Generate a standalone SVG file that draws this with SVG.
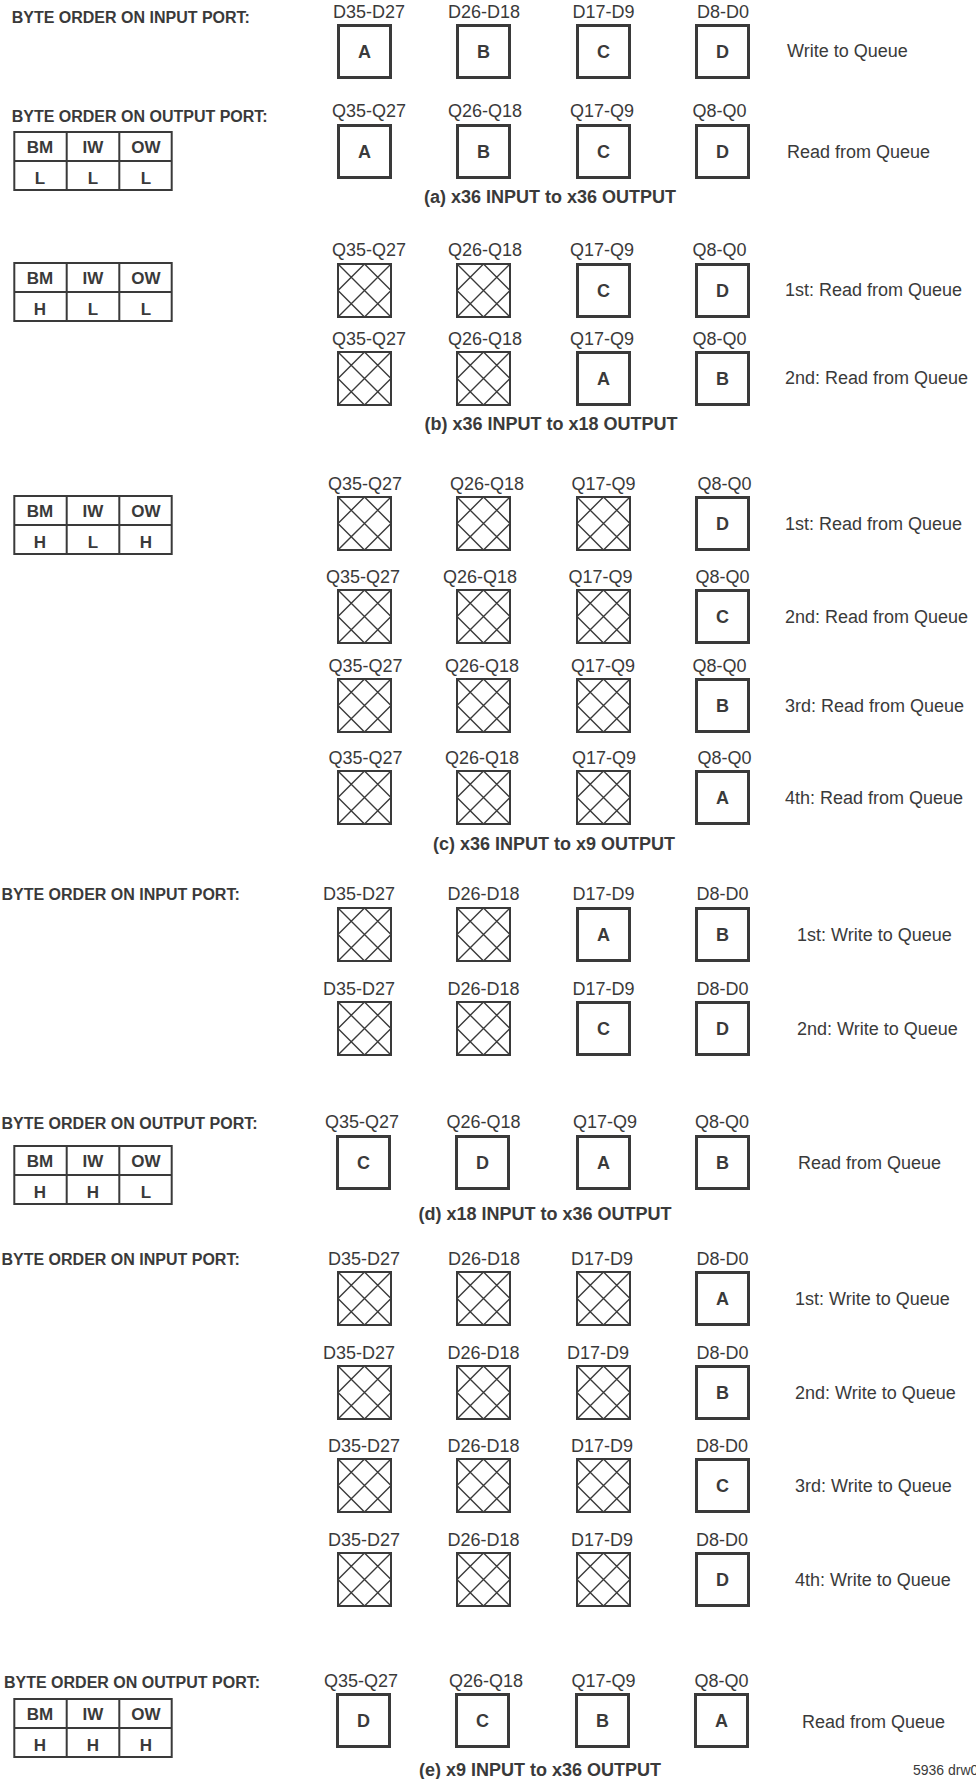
<svg xmlns="http://www.w3.org/2000/svg" xmlns:xlink="http://www.w3.org/1999/xlink" width="976" height="1779" viewBox="0 0 976 1779">
<style>
text{font-family:"Liberation Sans",Arial,Helvetica,sans-serif;fill:#3a3a3a}
.lbl{font-size:18px;text-anchor:middle}
.side{font-size:18px}
.hdr{font-size:16px;font-weight:bold}
.cap{font-size:18px;font-weight:bold;text-anchor:middle}
.let{font-size:18px;font-weight:bold;text-anchor:middle}
.tb{font-size:17px;font-weight:bold;text-anchor:middle}
.box{fill:none;stroke:#3a3a3a;stroke-width:3}
.xb{fill:none;stroke:#3a3a3a;stroke-width:2}
.xl{fill:none;stroke:#3a3a3a;stroke-width:1.4}
.tg{fill:none;stroke:#3a3a3a;stroke-width:2}
.note{font-size:14px}
</style>
<defs>
<g id="xbox">
<rect class="xb" x="1" y="1" width="53" height="53"/>
<path class="xl" d="M1,1 L54,54 M54,1 L1,54 M27.5,1 L54,27.5 L27.5,54 L1,27.5 Z"/>
</g>
<rect id="sbox" class="box" x="1.5" y="1.5" width="52" height="52"/>
<g id="tgrid">
<rect class="tg" x="14.3" y="1" width="157.4" height="58"/>
<path class="tg" d="M66.7,1 V59 M119.3,1 V59 M14.3,30 H171.7"/>
</g>
</defs>

<g id="connectors"/>

<!-- (a) -->
<g id="sec-a">
<text class="hdr" x="11.7" y="22.7">BYTE ORDER ON INPUT PORT:</text>
<g id="a-in-1" transform="translate(337,24)"><text class="lbl" x="32" y="-6">D35-D27</text><use href="#sbox"/><text class="let" x="27.5" y="34">A</text></g>
<g id="a-in-2" transform="translate(456,24)"><text class="lbl" x="28" y="-6">D26-D18</text><use href="#sbox"/><text class="let" x="27.5" y="34">B</text></g>
<g id="a-in-3" transform="translate(576,24)"><text class="lbl" x="27.5" y="-6">D17-D9</text><use href="#sbox"/><text class="let" x="27.5" y="34">C</text></g>
<g id="a-in-4" transform="translate(695,24)"><text class="lbl" x="28" y="-6">D8-D0</text><use href="#sbox"/><text class="let" x="27.5" y="34">D</text></g>
<text class="side" x="787" y="57">Write to Queue</text>

<text class="hdr" x="11.7" y="121.7">BYTE ORDER ON OUTPUT PORT:</text>
<g id="a-table" transform="translate(0,131)"><use href="#tgrid"/>
<text class="tb" x="40" y="22">BM</text><text class="tb" x="93" y="22">IW</text><text class="tb" x="146" y="22">OW</text>
<text class="tb" x="40" y="53">L</text><text class="tb" x="93" y="53">L</text><text class="tb" x="146" y="53">L</text></g>
<g id="a-out-1" transform="translate(337,124)"><text class="lbl" x="32" y="-7">Q35-Q27</text><use href="#sbox"/><text class="let" x="27.5" y="34">A</text></g>
<g id="a-out-2" transform="translate(456,124)"><text class="lbl" x="29" y="-7">Q26-Q18</text><use href="#sbox"/><text class="let" x="27.5" y="34">B</text></g>
<g id="a-out-3" transform="translate(576,124)"><text class="lbl" x="26" y="-7">Q17-Q9</text><use href="#sbox"/><text class="let" x="27.5" y="34">C</text></g>
<g id="a-out-4" transform="translate(695,124)"><text class="lbl" x="24.5" y="-7">Q8-Q0</text><use href="#sbox"/><text class="let" x="27.5" y="34">D</text></g>
<text class="side" x="787" y="158">Read from Queue</text>
<text class="cap" x="550" y="203">(a) x36 INPUT to x36 OUTPUT</text>
</g>

<!-- (b) -->
<g id="sec-b">
<g id="b-table" transform="translate(0,262)"><use href="#tgrid"/>
<text class="tb" x="40" y="22">BM</text><text class="tb" x="93" y="22">IW</text><text class="tb" x="146" y="22">OW</text>
<text class="tb" x="40" y="53">H</text><text class="tb" x="93" y="53">L</text><text class="tb" x="146" y="53">L</text></g>
<g id="b-r1-1" transform="translate(337,263)"><text class="lbl" x="32" y="-7">Q35-Q27</text><use href="#xbox"/></g>
<g id="b-r1-2" transform="translate(456,263)"><text class="lbl" x="29" y="-7">Q26-Q18</text><use href="#xbox"/></g>
<g id="b-r1-3" transform="translate(576,263)"><text class="lbl" x="26" y="-7">Q17-Q9</text><use href="#sbox"/><text class="let" x="27.5" y="34">C</text></g>
<g id="b-r1-4" transform="translate(695,263)"><text class="lbl" x="24.5" y="-7">Q8-Q0</text><use href="#sbox"/><text class="let" x="27.5" y="34">D</text></g>
<text class="side" x="785" y="296">1st: Read from Queue</text>
<g id="b-r2-1" transform="translate(337,351)"><text class="lbl" x="32" y="-6">Q35-Q27</text><use href="#xbox"/></g>
<g id="b-r2-2" transform="translate(456,351)"><text class="lbl" x="29" y="-6">Q26-Q18</text><use href="#xbox"/></g>
<g id="b-r2-3" transform="translate(576,351)"><text class="lbl" x="26" y="-6">Q17-Q9</text><use href="#sbox"/><text class="let" x="27.5" y="34">A</text></g>
<g id="b-r2-4" transform="translate(695,351)"><text class="lbl" x="24.5" y="-6">Q8-Q0</text><use href="#sbox"/><text class="let" x="27.5" y="34">B</text></g>
<text class="side" x="785" y="384">2nd: Read from Queue</text>
<text class="cap" x="551" y="430">(b) x36 INPUT to x18 OUTPUT</text>
</g>

<!-- (c) -->
<g id="sec-c">
<g id="c-table" transform="translate(0,495)"><use href="#tgrid"/>
<text class="tb" x="40" y="22">BM</text><text class="tb" x="93" y="22">IW</text><text class="tb" x="146" y="22">OW</text>
<text class="tb" x="40" y="53">H</text><text class="tb" x="93" y="53">L</text><text class="tb" x="146" y="53">H</text></g>
<g id="c-r1-1" transform="translate(337,496)"><text class="lbl" x="28" y="-6">Q35-Q27</text><use href="#xbox"/></g>
<g id="c-r1-2" transform="translate(456,496)"><text class="lbl" x="31" y="-6">Q26-Q18</text><use href="#xbox"/></g>
<g id="c-r1-3" transform="translate(576,496)"><text class="lbl" x="27.5" y="-6">Q17-Q9</text><use href="#xbox"/></g>
<g id="c-r1-4" transform="translate(695,496)"><text class="lbl" x="29.5" y="-6">Q8-Q0</text><use href="#sbox"/><text class="let" x="27.5" y="34">D</text></g>
<text class="side" x="785" y="530">1st: Read from Queue</text>
<g id="c-r2-1" transform="translate(337,589)"><text class="lbl" x="26" y="-6">Q35-Q27</text><use href="#xbox"/></g>
<g id="c-r2-2" transform="translate(456,589)"><text class="lbl" x="24" y="-6">Q26-Q18</text><use href="#xbox"/></g>
<g id="c-r2-3" transform="translate(576,589)"><text class="lbl" x="24.5" y="-6">Q17-Q9</text><use href="#xbox"/></g>
<g id="c-r2-4" transform="translate(695,589)"><text class="lbl" x="27.5" y="-6">Q8-Q0</text><use href="#sbox"/><text class="let" x="27.5" y="34">C</text></g>
<text class="side" x="785" y="623">2nd: Read from Queue</text>
<g id="c-r3-1" transform="translate(337,678)"><text class="lbl" x="28.5" y="-6">Q35-Q27</text><use href="#xbox"/></g>
<g id="c-r3-2" transform="translate(456,678)"><text class="lbl" x="26" y="-6">Q26-Q18</text><use href="#xbox"/></g>
<g id="c-r3-3" transform="translate(576,678)"><text class="lbl" x="27" y="-6">Q17-Q9</text><use href="#xbox"/></g>
<g id="c-r3-4" transform="translate(695,678)"><text class="lbl" x="24.5" y="-6">Q8-Q0</text><use href="#sbox"/><text class="let" x="27.5" y="34">B</text></g>
<text class="side" x="785" y="712">3rd: Read from Queue</text>
<g id="c-r4-1" transform="translate(337,770)"><text class="lbl" x="28.5" y="-6">Q35-Q27</text><use href="#xbox"/></g>
<g id="c-r4-2" transform="translate(456,770)"><text class="lbl" x="26" y="-6">Q26-Q18</text><use href="#xbox"/></g>
<g id="c-r4-3" transform="translate(576,770)"><text class="lbl" x="28" y="-6">Q17-Q9</text><use href="#xbox"/></g>
<g id="c-r4-4" transform="translate(695,770)"><text class="lbl" x="29.5" y="-6">Q8-Q0</text><use href="#sbox"/><text class="let" x="27.5" y="34">A</text></g>
<text class="side" x="785" y="804">4th: Read from Queue</text>
<text class="cap" x="554" y="850">(c) x36 INPUT to x9 OUTPUT</text>
</g>

<!-- (d) -->
<g id="sec-d">
<text class="hdr" x="1.5" y="900">BYTE ORDER ON INPUT PORT:</text>
<g id="d-r1-1" transform="translate(337,907)"><text class="lbl" x="22" y="-7">D35-D27</text><use href="#xbox"/></g>
<g id="d-r1-2" transform="translate(456,907)"><text class="lbl" x="27.5" y="-7">D26-D18</text><use href="#xbox"/></g>
<g id="d-r1-3" transform="translate(576,907)"><text class="lbl" x="27.5" y="-7">D17-D9</text><use href="#sbox"/><text class="let" x="27.5" y="34">A</text></g>
<g id="d-r1-4" transform="translate(695,907)"><text class="lbl" x="27.5" y="-7">D8-D0</text><use href="#sbox"/><text class="let" x="27.5" y="34">B</text></g>
<text class="side" x="797" y="941">1st: Write to Queue</text>
<g id="d-r2-1" transform="translate(337,1001)"><text class="lbl" x="22" y="-6">D35-D27</text><use href="#xbox"/></g>
<g id="d-r2-2" transform="translate(456,1001)"><text class="lbl" x="27.5" y="-6">D26-D18</text><use href="#xbox"/></g>
<g id="d-r2-3" transform="translate(576,1001)"><text class="lbl" x="27.5" y="-6">D17-D9</text><use href="#sbox"/><text class="let" x="27.5" y="34">C</text></g>
<g id="d-r2-4" transform="translate(695,1001)"><text class="lbl" x="27.5" y="-6">D8-D0</text><use href="#sbox"/><text class="let" x="27.5" y="34">D</text></g>
<text class="side" x="797" y="1035">2nd: Write to Queue</text>

<text class="hdr" x="1.5" y="1129">BYTE ORDER ON OUTPUT PORT:</text>
<g id="d-table" transform="translate(0,1145)"><use href="#tgrid"/>
<text class="tb" x="40" y="22">BM</text><text class="tb" x="93" y="22">IW</text><text class="tb" x="146" y="22">OW</text>
<text class="tb" x="40" y="53">H</text><text class="tb" x="93" y="53">H</text><text class="tb" x="146" y="53">L</text></g>
<g id="d-out-1" transform="translate(336,1135)"><text class="lbl" x="26" y="-7">Q35-Q27</text><use href="#sbox"/><text class="let" x="27.5" y="34">C</text></g>
<g id="d-out-2" transform="translate(455,1135)"><text class="lbl" x="28.5" y="-7">Q26-Q18</text><use href="#sbox"/><text class="let" x="27.5" y="34">D</text></g>
<g id="d-out-3" transform="translate(576,1135)"><text class="lbl" x="29" y="-7">Q17-Q9</text><use href="#sbox"/><text class="let" x="27.5" y="34">A</text></g>
<g id="d-out-4" transform="translate(695,1135)"><text class="lbl" x="27" y="-7">Q8-Q0</text><use href="#sbox"/><text class="let" x="27.5" y="34">B</text></g>
<text class="side" x="798" y="1169">Read from Queue</text>
<text class="cap" x="545" y="1220">(d) x18 INPUT to x36 OUTPUT</text>
</g>

<!-- (e) -->
<g id="sec-e">
<text class="hdr" x="1.5" y="1265">BYTE ORDER ON INPUT PORT:</text>
<g id="e-r1-1" transform="translate(337,1271)"><text class="lbl" x="27" y="-6">D35-D27</text><use href="#xbox"/></g>
<g id="e-r1-2" transform="translate(456,1271)"><text class="lbl" x="28" y="-6">D26-D18</text><use href="#xbox"/></g>
<g id="e-r1-3" transform="translate(576,1271)"><text class="lbl" x="26" y="-6">D17-D9</text><use href="#xbox"/></g>
<g id="e-r1-4" transform="translate(695,1271)"><text class="lbl" x="27.5" y="-6">D8-D0</text><use href="#sbox"/><text class="let" x="27.5" y="34">A</text></g>
<text class="side" x="795" y="1305">1st: Write to Queue</text>
<g id="e-r2-1" transform="translate(337,1365)"><text class="lbl" x="22" y="-6">D35-D27</text><use href="#xbox"/></g>
<g id="e-r2-2" transform="translate(456,1365)"><text class="lbl" x="27.5" y="-6">D26-D18</text><use href="#xbox"/></g>
<g id="e-r2-3" transform="translate(576,1365)"><text class="lbl" x="22" y="-6">D17-D9</text><use href="#xbox"/></g>
<g id="e-r2-4" transform="translate(695,1365)"><text class="lbl" x="27.5" y="-6">D8-D0</text><use href="#sbox"/><text class="let" x="27.5" y="34">B</text></g>
<text class="side" x="795" y="1399">2nd: Write to Queue</text>
<g id="e-r3-1" transform="translate(337,1458)"><text class="lbl" x="27" y="-6">D35-D27</text><use href="#xbox"/></g>
<g id="e-r3-2" transform="translate(456,1458)"><text class="lbl" x="27.5" y="-6">D26-D18</text><use href="#xbox"/></g>
<g id="e-r3-3" transform="translate(576,1458)"><text class="lbl" x="26" y="-6">D17-D9</text><use href="#xbox"/></g>
<g id="e-r3-4" transform="translate(695,1458)"><text class="lbl" x="27" y="-6">D8-D0</text><use href="#sbox"/><text class="let" x="27.5" y="34">C</text></g>
<text class="side" x="795" y="1492">3rd: Write to Queue</text>
<g id="e-r4-1" transform="translate(337,1552)"><text class="lbl" x="27" y="-6">D35-D27</text><use href="#xbox"/></g>
<g id="e-r4-2" transform="translate(456,1552)"><text class="lbl" x="27.5" y="-6">D26-D18</text><use href="#xbox"/></g>
<g id="e-r4-3" transform="translate(576,1552)"><text class="lbl" x="26" y="-6">D17-D9</text><use href="#xbox"/></g>
<g id="e-r4-4" transform="translate(695,1552)"><text class="lbl" x="27" y="-6">D8-D0</text><use href="#sbox"/><text class="let" x="27.5" y="34">D</text></g>
<text class="side" x="795" y="1586">4th: Write to Queue</text>

<text class="hdr" x="4" y="1688">BYTE ORDER ON OUTPUT PORT:</text>
<g id="e-table" transform="translate(0,1698)"><use href="#tgrid"/>
<text class="tb" x="40" y="22">BM</text><text class="tb" x="93" y="22">IW</text><text class="tb" x="146" y="22">OW</text>
<text class="tb" x="40" y="53">H</text><text class="tb" x="93" y="53">H</text><text class="tb" x="146" y="53">H</text></g>
<g id="e-out-1" transform="translate(336,1693)"><text class="lbl" x="25" y="-6">Q35-Q27</text><use href="#sbox"/><text class="let" x="27.5" y="34">D</text></g>
<g id="e-out-2" transform="translate(455,1693)"><text class="lbl" x="31" y="-6">Q26-Q18</text><use href="#sbox"/><text class="let" x="27.5" y="34">C</text></g>
<g id="e-out-3" transform="translate(575,1693)"><text class="lbl" x="28.5" y="-6">Q17-Q9</text><use href="#sbox"/><text class="let" x="27.5" y="34">B</text></g>
<g id="e-out-4" transform="translate(694,1693)"><text class="lbl" x="27.5" y="-6">Q8-Q0</text><use href="#sbox"/><text class="let" x="27.5" y="34">A</text></g>
<text class="side" x="802" y="1728">Read from Queue</text>
<text class="cap" x="540" y="1776">(e) x9 INPUT to x36 OUTPUT</text>
<text class="note" x="913" y="1775">5936 drw0</text>
</g>
</svg>
